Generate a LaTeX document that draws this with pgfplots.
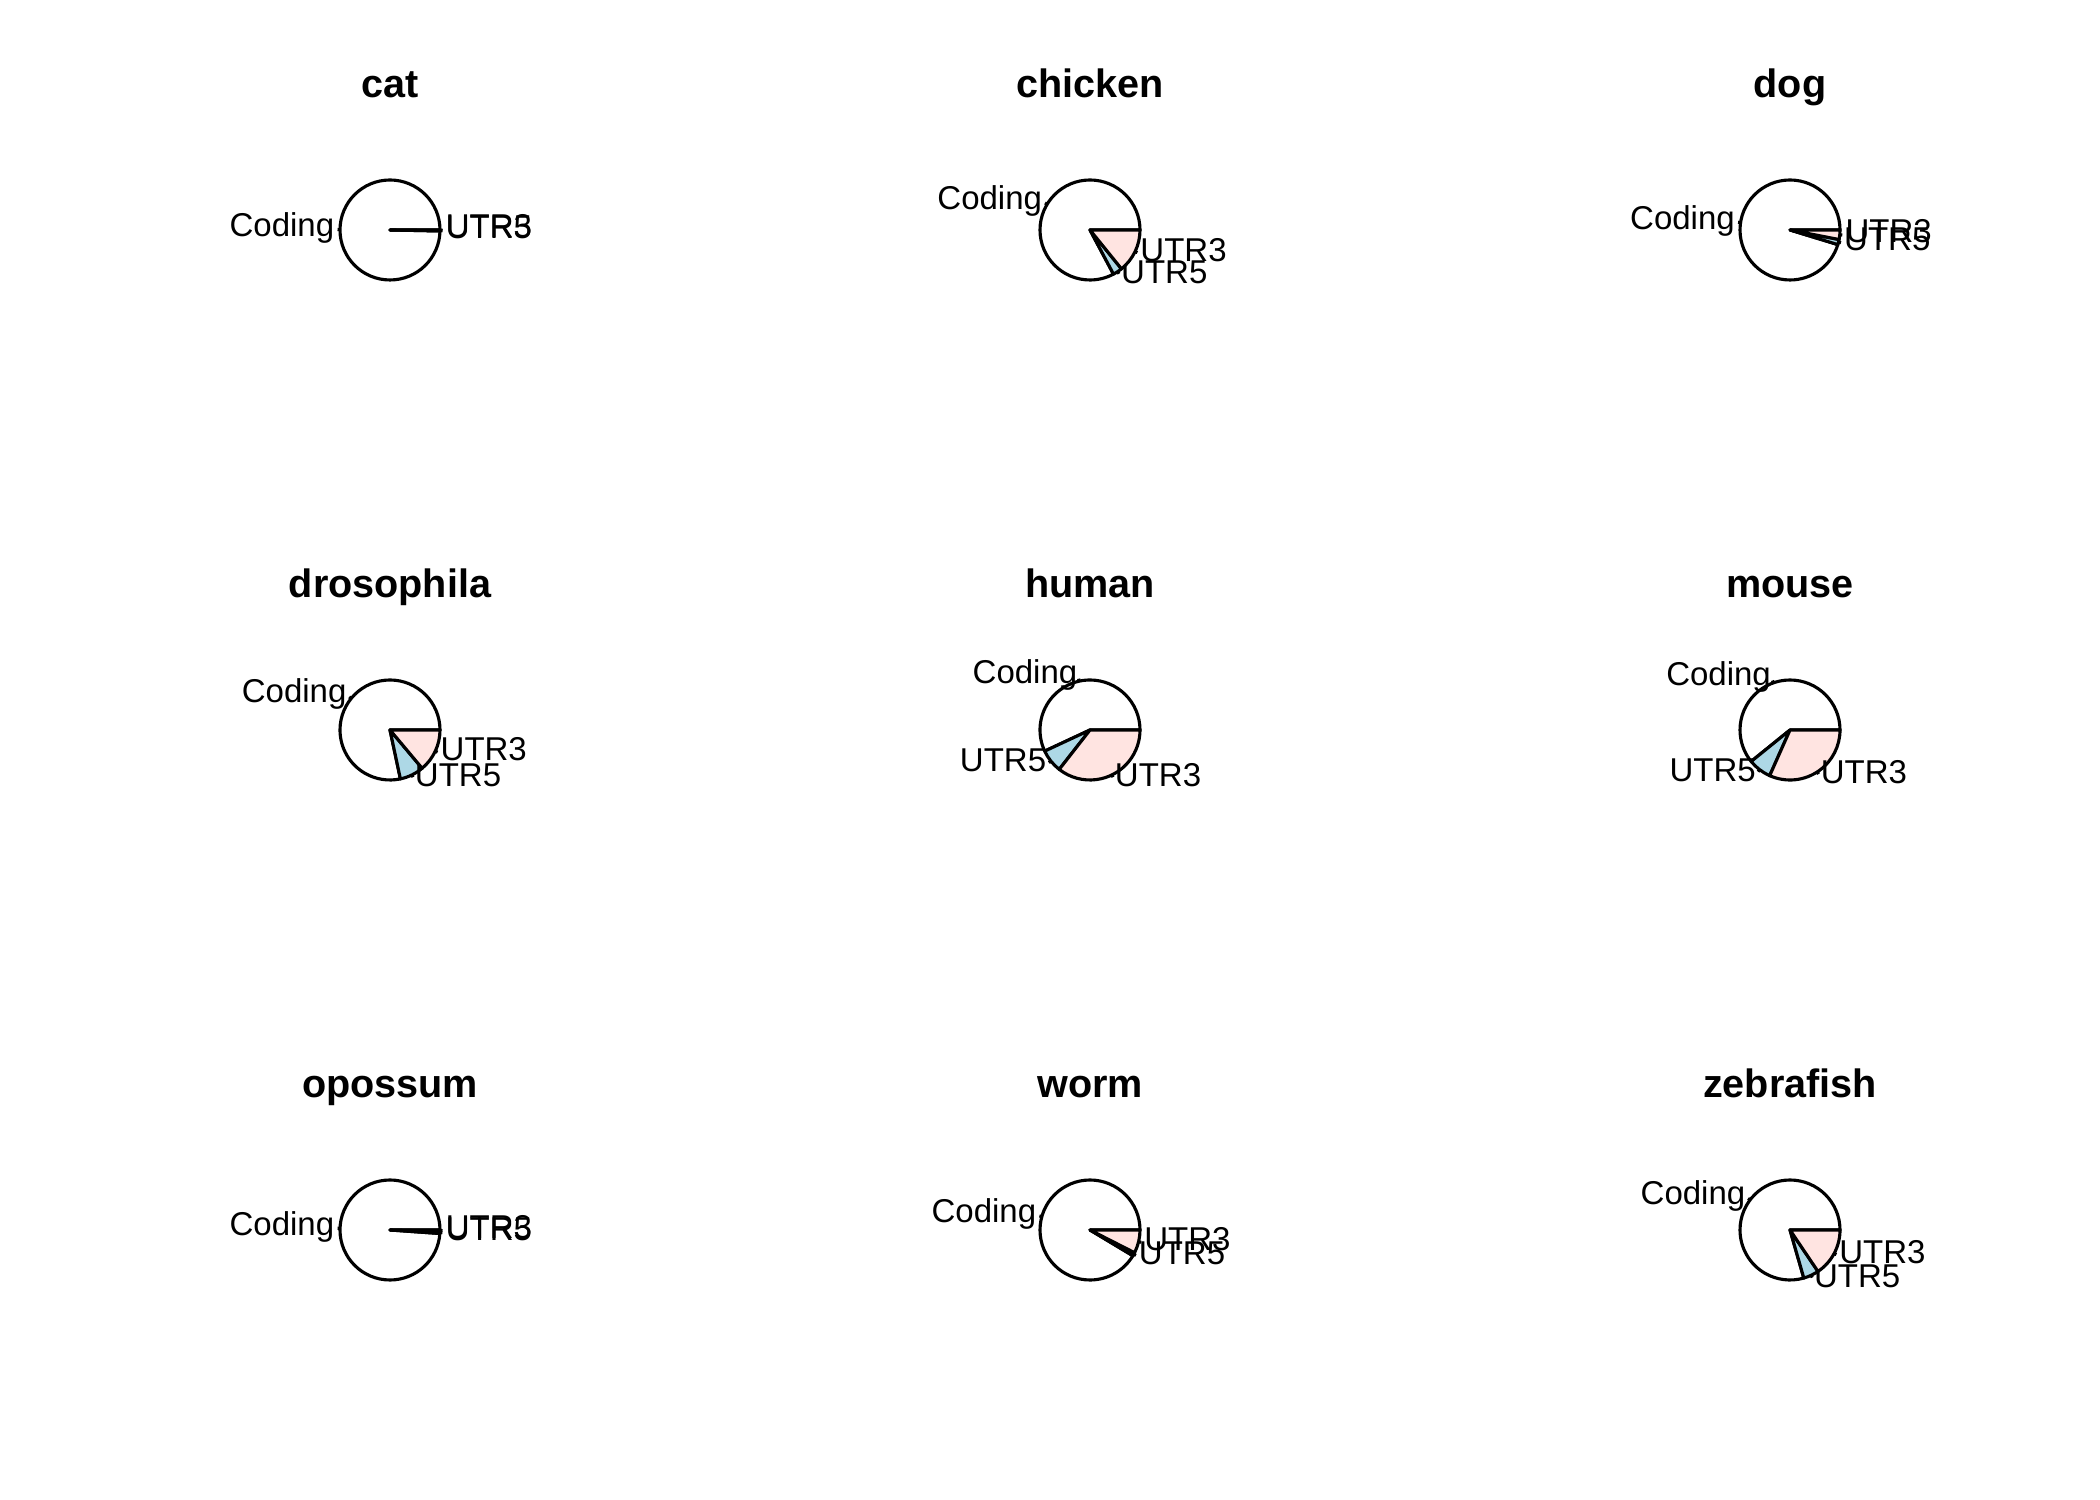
\documentclass[border=0pt]{standalone}
\usepackage{fontspec}
\setmainfont{Liberation Sans}
\usepackage{pgfplots}
\pgfplotsset{compat=1.18}
\definecolor{mistyrose}{RGB}{255,228,225}
\definecolor{lightblue}{RGB}{173,216,230}
\pgfplotsset{
 pie/.style={hide axis, scale only axis, width=30bp, height=30bp,
   xmin=-1, xmax=1, ymin=-1, ymax=1, clip=false, anchor=center},
 slice/.style={data cs=polar, draw=black, line width=0.75bp, line join=round, fill=#1, mark=none},
 ptick/.style={data cs=polar, draw=black, line width=0.75bp, mark=none},
}
\tikzset{
 lblE/.style={anchor=base west, inner sep=0pt, yshift=-0.18em, font=\fontsize{7.92bp}{9bp}\selectfont},
 lblW/.style={anchor=base east, inner sep=0pt, yshift=-0.18em, font=\fontsize{7.92bp}{9bp}\selectfont},
 ttl/.style={anchor=base, inner sep=0pt, font=\fontsize{9.5bp}{11bp}\selectfont\bfseries},
}
\begin{document}
\begin{tikzpicture}
\useasboundingbox (0bp,0bp) rectangle (504bp,360bp);

% ---------------- cat ----------------
\begin{axis}[pie, at={(93.6bp,304.8bp)}]
\addplot[slice=white] coordinates {(0,0) (0,0.8)} arc[start angle=0, end angle=358.9, radius=12bp] -- cycle;
\addplot[ptick] coordinates {(179.45,0.8) (179.45,0.84)};
\node[lblW] at (axis cs:{0.88*cos(179.45)},{0.88*sin(179.45)}) {Coding};
\addplot[slice=lightblue] coordinates {(0,0) (-1.1,0.8)} arc[start angle=-1.1, end angle=-0.7, radius=12bp] -- cycle;
\addplot[ptick] coordinates {(-0.9,0.8) (-0.9,0.84)};
\node[lblE] at (axis cs:{0.88*cos(-0.9)},{0.88*sin(-0.9)}) {UTR5};
\addplot[slice=mistyrose] coordinates {(0,0) (-0.7,0.8)} arc[start angle=-0.7, end angle=0, radius=12bp] -- cycle;
\addplot[ptick] coordinates {(-0.35,0.8) (-0.35,0.84)};
\node[lblE] at (axis cs:{0.88*cos(-0.35)},{0.88*sin(-0.35)}) {UTR3};
\node[ttl] at (axis cs:0,2.12) {cat};
\end{axis}

% ---------------- chicken ----------------
\begin{axis}[pie, at={(261.6bp,304.8bp)}]
\addplot[slice=white] coordinates {(0,0) (0,0.8)} arc[start angle=0, end angle=298, radius=12bp] -- cycle;
\addplot[ptick] coordinates {(149,0.8) (149,0.84)};
\node[lblW] at (axis cs:{0.88*cos(149)},{0.88*sin(149)}) {Coding};
\addplot[slice=lightblue] coordinates {(0,0) (-62,0.8)} arc[start angle=-62, end angle=-51, radius=12bp] -- cycle;
\addplot[ptick] coordinates {(-56.5,0.8) (-56.5,0.84)};
\node[lblE] at (axis cs:{0.88*cos(-56.5)},{0.88*sin(-56.5)}) {UTR5};
\addplot[slice=mistyrose] coordinates {(0,0) (-51,0.8)} arc[start angle=-51, end angle=0, radius=12bp] -- cycle;
\addplot[ptick] coordinates {(-25.5,0.8) (-25.5,0.84)};
\node[lblE] at (axis cs:{0.88*cos(-25.5)},{0.88*sin(-25.5)}) {UTR3};
\node[ttl] at (axis cs:0,2.12) {chicken};
\end{axis}

% ---------------- dog ----------------
\begin{axis}[pie, at={(429.6bp,304.8bp)}]
\addplot[slice=white] coordinates {(0,0) (0,0.8)} arc[start angle=0, end angle=343, radius=12bp] -- cycle;
\addplot[ptick] coordinates {(171.5,0.8) (171.5,0.84)};
\node[lblW] at (axis cs:{0.88*cos(171.5)},{0.88*sin(171.5)}) {Coding};
\addplot[slice=lightblue] coordinates {(0,0) (-17,0.8)} arc[start angle=-17, end angle=-11, radius=12bp] -- cycle;
\addplot[ptick] coordinates {(-14,0.8) (-14,0.84)};
\node[lblE] at (axis cs:{0.88*cos(-14)},{0.88*sin(-14)}) {UTR5};
\addplot[slice=mistyrose] coordinates {(0,0) (-11,0.8)} arc[start angle=-11, end angle=0, radius=12bp] -- cycle;
\addplot[ptick] coordinates {(-5.5,0.8) (-5.5,0.84)};
\node[lblE] at (axis cs:{0.88*cos(-5.5)},{0.88*sin(-5.5)}) {UTR3};
\node[ttl] at (axis cs:0,2.12) {dog};
\end{axis}

% ---------------- drosophila ----------------
\begin{axis}[pie, at={(93.6bp,184.8bp)}]
\addplot[slice=white] coordinates {(0,0) (0,0.8)} arc[start angle=0, end angle=282, radius=12bp] -- cycle;
\addplot[ptick] coordinates {(141,0.8) (141,0.84)};
\node[lblW] at (axis cs:{0.88*cos(141)},{0.88*sin(141)}) {Coding};
\addplot[slice=lightblue] coordinates {(0,0) (-78,0.8)} arc[start angle=-78, end angle=-50, radius=12bp] -- cycle;
\addplot[ptick] coordinates {(-64,0.8) (-64,0.84)};
\node[lblE] at (axis cs:{0.88*cos(-64)},{0.88*sin(-64)}) {UTR5};
\addplot[slice=mistyrose] coordinates {(0,0) (-50,0.8)} arc[start angle=-50, end angle=0, radius=12bp] -- cycle;
\addplot[ptick] coordinates {(-25,0.8) (-25,0.84)};
\node[lblE] at (axis cs:{0.88*cos(-25)},{0.88*sin(-25)}) {UTR3};
\node[ttl] at (axis cs:0,2.12) {drosophila};
\end{axis}

% ---------------- human ----------------
\begin{axis}[pie, at={(261.6bp,184.8bp)}]
\addplot[slice=white] coordinates {(0,0) (0,0.8)} arc[start angle=0, end angle=205, radius=12bp] -- cycle;
\addplot[ptick] coordinates {(102.5,0.8) (102.5,0.84)};
\node[lblW] at (axis cs:{0.88*cos(102.5)},{0.88*sin(102.5)}) {Coding};
\addplot[slice=lightblue] coordinates {(0,0) (-155,0.8)} arc[start angle=-155, end angle=-128, radius=12bp] -- cycle;
\addplot[ptick] coordinates {(-141.5,0.8) (-141.5,0.84)};
\node[lblW] at (axis cs:{0.88*cos(-141.5)},{0.88*sin(-141.5)}) {UTR5};
\addplot[slice=mistyrose] coordinates {(0,0) (-128,0.8)} arc[start angle=-128, end angle=0, radius=12bp] -- cycle;
\addplot[ptick] coordinates {(-64,0.8) (-64,0.84)};
\node[lblE] at (axis cs:{0.88*cos(-64)},{0.88*sin(-64)}) {UTR3};
\node[ttl] at (axis cs:0,2.12) {human};
\end{axis}

% ---------------- mouse ----------------
\begin{axis}[pie, at={(429.6bp,184.8bp)}]
\addplot[slice=white] coordinates {(0,0) (0,0.8)} arc[start angle=0, end angle=219, radius=12bp] -- cycle;
\addplot[ptick] coordinates {(109.5,0.8) (109.5,0.84)};
\node[lblW] at (axis cs:{0.88*cos(109.5)},{0.88*sin(109.5)}) {Coding};
\addplot[slice=lightblue] coordinates {(0,0) (-141,0.8)} arc[start angle=-141, end angle=-114, radius=12bp] -- cycle;
\addplot[ptick] coordinates {(-127.5,0.8) (-127.5,0.84)};
\node[lblW] at (axis cs:{0.88*cos(-127.5)},{0.88*sin(-127.5)}) {UTR5};
\addplot[slice=mistyrose] coordinates {(0,0) (-114,0.8)} arc[start angle=-114, end angle=0, radius=12bp] -- cycle;
\addplot[ptick] coordinates {(-57,0.8) (-57,0.84)};
\node[lblE] at (axis cs:{0.88*cos(-57)},{0.88*sin(-57)}) {UTR3};
\node[ttl] at (axis cs:0,2.12) {mouse};
\end{axis}

% ---------------- opossum ----------------
\begin{axis}[pie, at={(93.6bp,64.8bp)}]
\addplot[slice=white] coordinates {(0,0) (0,0.8)} arc[start angle=0, end angle=356, radius=12bp] -- cycle;
\addplot[ptick] coordinates {(178,0.8) (178,0.84)};
\node[lblW] at (axis cs:{0.88*cos(178)},{0.88*sin(178)}) {Coding};
\addplot[slice=lightblue] coordinates {(0,0) (-4,0.8)} arc[start angle=-4, end angle=-1.5, radius=12bp] -- cycle;
\addplot[ptick] coordinates {(-2.75,0.8) (-2.75,0.84)};
\node[lblE] at (axis cs:{0.88*cos(-2.75)},{0.88*sin(-2.75)}) {UTR5};
\addplot[slice=mistyrose] coordinates {(0,0) (-1.5,0.8)} arc[start angle=-1.5, end angle=0, radius=12bp] -- cycle;
\addplot[ptick] coordinates {(-0.75,0.8) (-0.75,0.84)};
\node[lblE] at (axis cs:{0.88*cos(-0.75)},{0.88*sin(-0.75)}) {UTR3};
\node[ttl] at (axis cs:0,2.12) {opossum};
\end{axis}

% ---------------- worm ----------------
\begin{axis}[pie, at={(261.6bp,64.8bp)}]
\addplot[slice=white] coordinates {(0,0) (0,0.8)} arc[start angle=0, end angle=329, radius=12bp] -- cycle;
\addplot[ptick] coordinates {(164.5,0.8) (164.5,0.84)};
\node[lblW] at (axis cs:{0.88*cos(164.5)},{0.88*sin(164.5)}) {Coding};
\addplot[slice=lightblue] coordinates {(0,0) (-31,0.8)} arc[start angle=-31, end angle=-27, radius=12bp] -- cycle;
\addplot[ptick] coordinates {(-29,0.8) (-29,0.84)};
\node[lblE] at (axis cs:{0.88*cos(-29)},{0.88*sin(-29)}) {UTR5};
\addplot[slice=mistyrose] coordinates {(0,0) (-27,0.8)} arc[start angle=-27, end angle=0, radius=12bp] -- cycle;
\addplot[ptick] coordinates {(-13.5,0.8) (-13.5,0.84)};
\node[lblE] at (axis cs:{0.88*cos(-13.5)},{0.88*sin(-13.5)}) {UTR3};
\node[ttl] at (axis cs:0,2.12) {worm};
\end{axis}

% ---------------- zebrafish ----------------
\begin{axis}[pie, at={(429.6bp,64.8bp)}]
\addplot[slice=white] coordinates {(0,0) (0,0.8)} arc[start angle=0, end angle=286, radius=12bp] -- cycle;
\addplot[ptick] coordinates {(143,0.8) (143,0.84)};
\node[lblW] at (axis cs:{0.88*cos(143)},{0.88*sin(143)}) {Coding};
\addplot[slice=lightblue] coordinates {(0,0) (-74,0.8)} arc[start angle=-74, end angle=-56, radius=12bp] -- cycle;
\addplot[ptick] coordinates {(-65,0.8) (-65,0.84)};
\node[lblE] at (axis cs:{0.88*cos(-65)},{0.88*sin(-65)}) {UTR5};
\addplot[slice=mistyrose] coordinates {(0,0) (-56,0.8)} arc[start angle=-56, end angle=0, radius=12bp] -- cycle;
\addplot[ptick] coordinates {(-28,0.8) (-28,0.84)};
\node[lblE] at (axis cs:{0.88*cos(-28)},{0.88*sin(-28)}) {UTR3};
\node[ttl] at (axis cs:0,2.12) {zebrafish};
\end{axis}
\end{tikzpicture}
\end{document}
